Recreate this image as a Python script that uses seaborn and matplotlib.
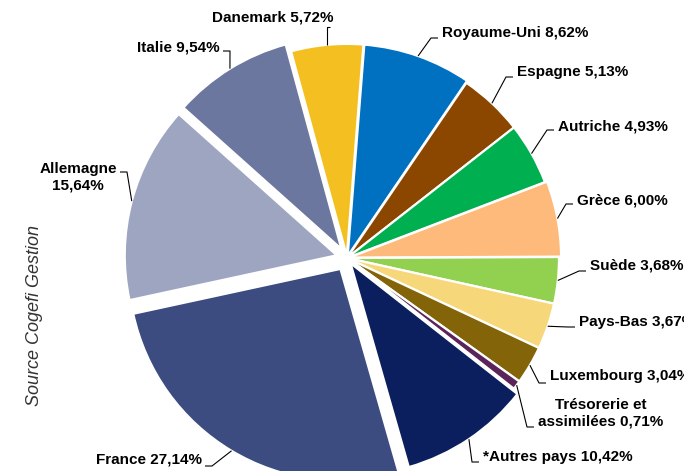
import numpy as np
import matplotlib.pyplot as plt
import seaborn as sns

# données (répartition géographique, en %)
pays = ['Royaume-Uni', 'Espagne', 'Autriche', 'Grèce', 'Suède', 'Pays-Bas',
        'Luxembourg', 'Trésorerie et\nassimilées', '*Autres pays', 'France',
        'Allemagne', 'Italie', 'Danemark']
poids = [8.62, 5.13, 4.93, 6.00, 3.68, 3.67, 3.04, 0.71, 10.42, 27.14,
         15.64, 9.54, 5.72]
textes = ['8,62%', '5,13%', '4,93%', '6,00%', '3,68%', '3,67%', '3,04%',
          '0,71%', '10,42%', '27,14%', '15,64%', '9,54%', '5,72%']
couleurs = ['#0070C0', '#8B4700', '#00B050', '#FDBA7A', '#92D050', '#F6D87A',
            '#846408', '#5A2359', '#0B1F5E', '#3C4C80', '#9EA5C1', '#6B779F',
            '#F4C021']
eclat = [0.01, 0.0, 0.0, 0.01, 0.0, 0.0, 0.0, 0.0, 0.03, 0.06, 0.05, 0.05, 0.01]

# --- mise en page ---
sns.set_style('white')
plt.rcParams['font.family'] = ['Liberation Sans', 'DejaVu Sans']

W, H = 684, 471
R_PX = 212.0          # rayon du camembert en pixels
CX, CY = 347, 258     # centre du camembert en pixels (origine en haut à gauche)


def px(x, y):
    # pixels image -> coordonnées données
    return (x - CX) / R_PX, (CY - y) / R_PX


# position des étiquettes (pixels) : bord du texte côté trait, centre vertical, côté
pos_etiq = [(442, 33, 'l'), (517, 72, 'l'), (558, 126, 'l'), (577, 200, 'l'),
            (590, 266, 'l'), (579, 322, 'l'), (550, 376, 'l'), (538, 413, 'l'),
            (483, 457, 'l'), (202, 459, 'r'), (117, 177, 'r'), (220, 47, 'r'),
            (333, 17, 'v')]
# hauteur du petit trait horizontal (pixels)
y_trait = [38, 77, 130, 204, 271, 327, 383, 427, 462, 466, 172, 51, 27]

fig = plt.figure(figsize=(W / 100, H / 100), dpi=100)
ax = fig.add_axes([0, 0, 1, 1])

start = 90 - 4.5
wedges, _ = ax.pie(poids, colors=couleurs, explode=eclat, startangle=start,
                   counterclock=False,
                   wedgeprops=dict(edgecolor='white', linewidth=1.6))

for w, nom, txt, (lx, ly, cote), yt in zip(wedges, pays, textes, pos_etiq, y_trait):
    th = np.deg2rad((w.theta1 + w.theta2) / 2)
    bx = w.center[0] + w.r * np.cos(th)
    by = w.center[1] + w.r * np.sin(th)
    if '\n' in nom:
        l1, l2 = nom.split('\n')
        label = f'{l1}\n{l2} {txt}'
    elif nom == 'Allemagne':
        label = f'{nom}\n{txt}'
    else:
        label = f'{nom} {txt}'

    tx, ty = px(lx, ly)
    style = dict(va='center', fontsize=11, fontweight='bold', color='black',
                 multialignment='center')
    if cote == 'l':
        ax.text(tx, ty, label, ha='left', **style)
        p1 = px(lx - 4, yt)
        p2 = px(lx - 11, yt)
    elif cote == 'r':
        ax.text(tx, ty, label, ha='right', **style)
        p1 = px(lx + 3, yt)
        p2 = px(lx + 10, yt)
    else:
        ax.text(tx, ty, label, ha='right', **style)
        p1 = px(lx - 3, yt)
        p2 = (bx, p1[1])
    ax.plot([p1[0], p2[0], bx], [p1[1], p2[1], by], color='black', lw=0.8,
            solid_capstyle='butt')

ax.set_xlim(-CX / R_PX, (W - CX) / R_PX)
ax.set_ylim((CY - H) / R_PX, CY / R_PX)
ax.set_aspect('equal', adjustable='box')
ax.axis('off')

fig.text(35 / W, 1 - 315 / H, 'Source Cogefi Gestion', rotation=90,
         ha='center', va='center', fontsize=13, fontstyle='italic',
         color='#333333')

fig.savefig('out.png', dpi=100)
